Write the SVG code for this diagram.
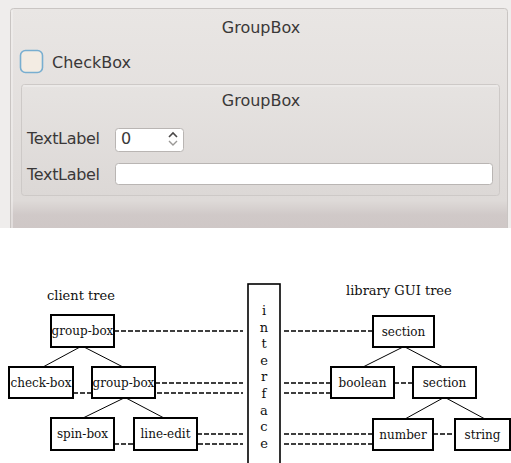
<svg xmlns="http://www.w3.org/2000/svg" width="511" height="463" viewBox="0 0 511 463">
  <defs>
    <linearGradient id="winbg" x1="0" y1="0" x2="0" y2="1">
      <stop offset="0" stop-color="#e9e6e4"/>
      <stop offset="0.8" stop-color="#dedad8"/>
      <stop offset="0.86" stop-color="#d0c9c8"/>
      <stop offset="1" stop-color="#cdc5c4"/>
    </linearGradient>
    <linearGradient id="innerbg" x1="0" y1="0" x2="0" y2="1">
      <stop offset="0" stop-color="#e6e3e1"/>
      <stop offset="1" stop-color="#dcd8d6"/>
    </linearGradient>
    <clipPath id="shot">
      <rect x="0" y="0" width="511" height="228"/>
    </clipPath>
  </defs>
  <style>
    .ui { font-family: "DejaVu Sans", "Liberation Sans", sans-serif; font-size: 16px; fill: #3a3838; }
    .title { font-family: "DejaVu Serif", "Liberation Serif", serif; font-size: 13px; fill: #111; }
    .lbl { font-family: "DejaVu Serif", "Liberation Serif", serif; font-size: 12px; fill: #111; text-anchor: middle; }
    .ifc { font-family: "DejaVu Serif", "Liberation Serif", serif; font-size: 13px; fill: #111; text-anchor: middle; }
    .node rect { fill: #ffffff; stroke: #000; stroke-width: 2; }
    .tree { stroke: #000; stroke-width: 1; fill: none; }
    .dash { stroke: #000; stroke-width: 1.3; stroke-dasharray: 5 2; fill: none; }
    .field { fill: #ffffff; stroke: #b9b5b3; stroke-width: 1; }
  </style>

  <rect x="0" y="0" width="511" height="463" fill="#ffffff"/>

  <!-- screenshot of the GUI -->
  <g id="screenshot" clip-path="url(#shot)">
    <rect x="0" y="0" width="511" height="228" fill="#efedec"/>
    <rect x="10.5" y="8.5" width="497" height="240" rx="3" fill="url(#winbg)" stroke="#c9c5c3"/>
    <line x1="12" y1="10" x2="12" y2="228" stroke="#f4f2f1" stroke-width="1"/>
    <text class="ui" x="261" y="33" text-anchor="middle" font-size="16.5">GroupBox</text>
    <rect x="20.5" y="50.5" width="22" height="22" rx="5" fill="#f3ece3" stroke="#78aed0" stroke-width="1.6"/>
    <text class="ui" x="52" y="68" font-size="16.5">CheckBox</text>
    <rect x="21.5" y="84.5" width="478" height="111" rx="3" fill="url(#innerbg)" stroke="#cdc9c7"/>
    <line x1="23" y1="86" x2="498" y2="86" stroke="#f2f0ef"/>
    <text class="ui" x="261" y="106" text-anchor="middle" font-size="16.5">GroupBox</text>
    <text class="ui" x="27" y="144" textLength="73">TextLabel</text>
    <rect class="field" x="115.5" y="128.5" width="68" height="23" rx="3"/>
    <text class="ui" x="121" y="144">0</text>
    <path d="M169 137 L173 133 L177 137" fill="none" stroke="#4a4848" stroke-width="1.6"/>
    <path d="M169 141 L173 145 L177 141" fill="none" stroke="#9a9896" stroke-width="1.4"/>
    <text class="ui" x="27" y="180" textLength="73">TextLabel</text>
    <rect class="field" x="115.5" y="163.5" width="377" height="21" rx="3"/>
  </g>

  <!-- tree titles -->
  <text class="title" x="47" y="300">client tree</text>
  <text class="title" x="346" y="295">library GUI tree</text>

  <!-- connectors -->
  <g id="connectors">
    <line class="tree" x1="80" y1="347" x2="43" y2="367"/>
    <line class="tree" x1="84" y1="347" x2="123" y2="367"/>
    <line class="tree" x1="124" y1="398" x2="83" y2="418"/>
    <line class="tree" x1="126" y1="398" x2="164" y2="418"/>
    <line class="tree" x1="403" y1="347" x2="363" y2="367"/>
    <line class="tree" x1="405" y1="347" x2="443" y2="367"/>
    <line class="tree" x1="443" y1="398" x2="405" y2="419"/>
    <line class="tree" x1="446" y1="398" x2="485" y2="419"/>

    <line class="dash" x1="114" y1="331" x2="243" y2="331"/>
    <line class="dash" x1="155" y1="383" x2="243" y2="383"/>
    <line class="dash" x1="73" y1="393" x2="243" y2="393"/>
    <line class="dash" x1="197" y1="434" x2="243" y2="434"/>
    <line class="dash" x1="114" y1="444" x2="243" y2="444"/>

    <line class="dash" x1="284" y1="331" x2="373" y2="331"/>
    <line class="dash" x1="284" y1="383" x2="331" y2="383"/>
    <line class="dash" x1="284" y1="393" x2="331" y2="393"/>
    <line class="dash" x1="394" y1="383" x2="413" y2="383"/>
    <line class="dash" x1="284" y1="434" x2="373" y2="434"/>
    <line class="dash" x1="284" y1="444" x2="373" y2="444"/>
    <line class="dash" x1="433" y1="434" x2="455" y2="434"/>
  </g>

  <!-- left tree nodes -->
  <g id="client-group-box" class="node">
    <rect x="51" y="315" width="63" height="32"/>
    <text class="lbl" x="82.5" y="335">group-box</text>
  </g>
  <g id="client-check-box" class="node">
    <rect x="9" y="367" width="64" height="31"/>
    <text class="lbl" x="41" y="386.5">check-box</text>
  </g>
  <g id="client-group-box-2" class="node">
    <rect x="92" y="367" width="63" height="31"/>
    <text class="lbl" x="123.5" y="386.5">group-box</text>
  </g>
  <g id="client-spin-box" class="node">
    <rect x="51" y="418" width="63" height="32"/>
    <text class="lbl" x="82.5" y="438">spin-box</text>
  </g>
  <g id="client-line-edit" class="node">
    <rect x="134" y="418" width="63" height="32"/>
    <text class="lbl" x="165.5" y="438">line-edit</text>
  </g>

  <!-- interface -->
  <g id="interface">
    <rect x="248" y="284" width="32" height="190" fill="#ffffff" stroke="#000" stroke-width="1.6"/>
    <text class="ifc" x="264" y="315">i</text>
    <text class="ifc" x="264" y="331.6">n</text>
    <text class="ifc" x="264" y="348.2">t</text>
    <text class="ifc" x="264" y="364.8">e</text>
    <text class="ifc" x="264" y="381.4">r</text>
    <text class="ifc" x="264" y="398">f</text>
    <text class="ifc" x="264" y="414.6">a</text>
    <text class="ifc" x="264" y="431.2">c</text>
    <text class="ifc" x="264" y="447.8">e</text>
  </g>

  <!-- right tree nodes -->
  <g id="lib-section" class="node">
    <rect x="373" y="316" width="61" height="31"/>
    <text class="lbl" x="403.5" y="335.5">section</text>
  </g>
  <g id="lib-boolean" class="node">
    <rect x="331" y="367" width="63" height="31"/>
    <text class="lbl" x="362.5" y="386.5">boolean</text>
  </g>
  <g id="lib-section-2" class="node">
    <rect x="413" y="367" width="63" height="31"/>
    <text class="lbl" x="444.5" y="386.5">section</text>
  </g>
  <g id="lib-number" class="node">
    <rect x="373" y="419" width="60" height="31"/>
    <text class="lbl" x="403" y="438.5">number</text>
  </g>
  <g id="lib-string" class="node">
    <rect x="455" y="419" width="55" height="31"/>
    <text class="lbl" x="482.5" y="438.5">string</text>
  </g>
</svg>
